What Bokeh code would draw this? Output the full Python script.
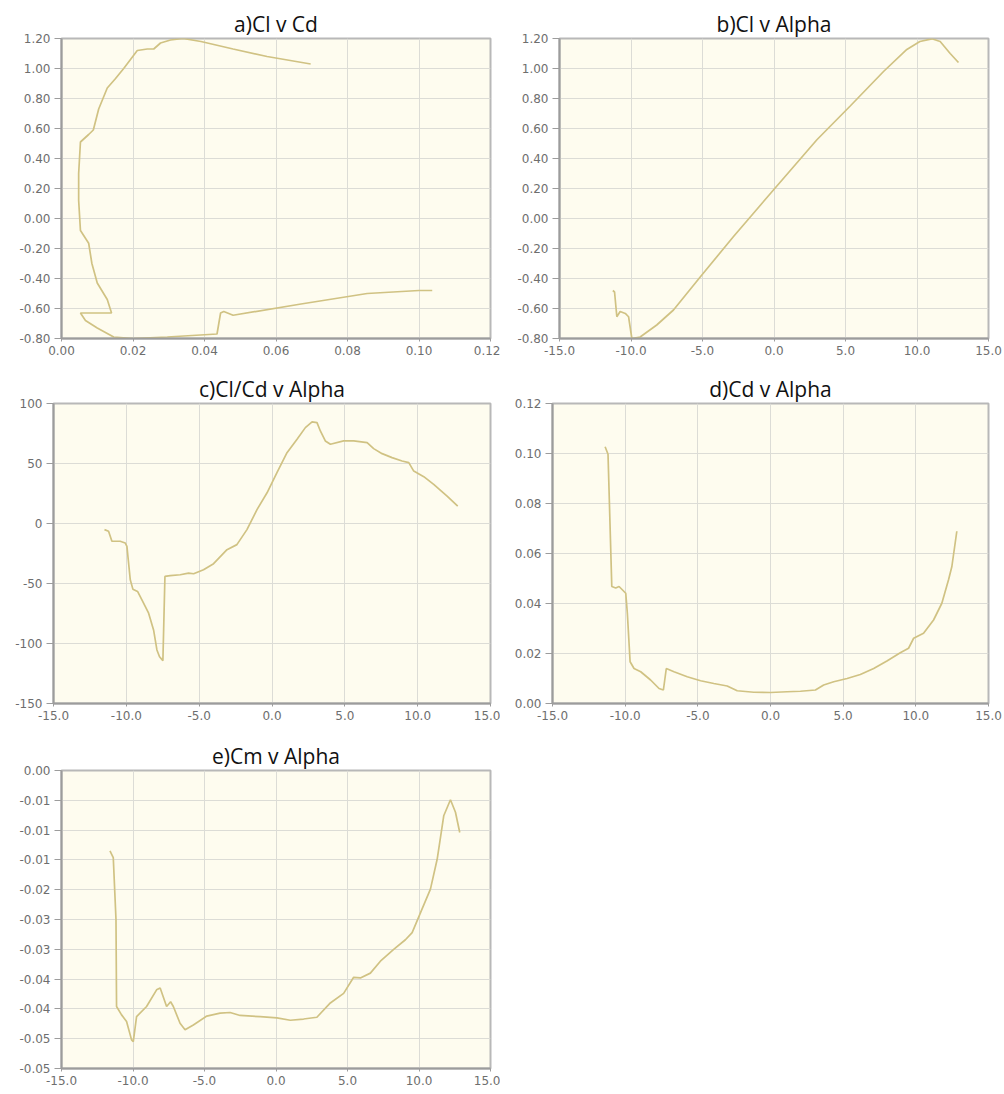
from bokeh.plotting import figure
from bokeh.layouts import column, row
from bokeh.models import NumeralTickFormatter, FixedTicker, Range1d
from bokeh.embed import file_html
from bokeh.resources import INLINE

# ---------------- data ----------------
# a) Cl v Cd  (parametric polar, in order of increasing alpha)
a_cd = [0.1037, 0.100, 0.0855, 0.067, 0.048, 0.0454, 0.0445, 0.0440, 0.0435, 0.0296,
        0.020, 0.0146, 0.010, 0.0067, 0.0053, 0.0140, 0.0128, 0.0100, 0.0085, 0.0076,
        0.0053, 0.0048, 0.0048, 0.0053, 0.0076, 0.0089, 0.0104, 0.0128, 0.0150, 0.0174,
        0.0212, 0.0240, 0.0258, 0.0277, 0.0305, 0.0340, 0.0390, 0.0480, 0.0575, 0.0697]
a_cl = [-0.48, -0.48, -0.50, -0.57, -0.645, -0.62, -0.63, -0.70, -0.77, -0.79,
        -0.80, -0.79, -0.73, -0.68, -0.63, -0.63, -0.54, -0.43, -0.30, -0.165,
        -0.08, 0.12, 0.30, 0.51, 0.56, 0.59, 0.73, 0.87, 0.93, 1.00,
        1.12, 1.13, 1.13, 1.17, 1.19, 1.20, 1.18, 1.13, 1.08, 1.03]

# b) Cl v Alpha
b_alpha = [-11.27, -11.15, -10.99, -10.76, -10.4, -10.17, -9.94, -9.36, -8.2, -7.03,
           -5.16, -2.83, -0.04, 3.0, 5.33, 7.66, 9.29, 10.2, 11.04, 11.62, 12.32, 12.9]
b_cl = [-0.48, -0.49, -0.655, -0.62, -0.633, -0.655, -0.80, -0.79, -0.71, -0.61,
        -0.39, -0.12, 0.19, 0.525, 0.75, 0.98, 1.127, 1.18, 1.198, 1.18, 1.10, 1.04]

# c) Cl/Cd v Alpha
c_alpha = [-11.5, -11.22, -10.99, -10.42, -10.08, -9.96, -9.73, -9.55, -9.23, -8.93,
           -8.47, -8.13, -7.9, -7.72, -7.49, -7.35, -6.99, -6.3, -5.73, -5.38,
           -4.7, -4.01, -3.09, -2.41, -1.72, -1.03, -0.34, 0.34, 1.03, 1.72,
           2.29, 2.75, 3.09, 3.32, 3.66, 4.01, 4.92, 5.61, 6.53, 6.98,
           7.56, 8.24, 8.93, 9.39, 9.73, 10.42, 11.1, 12.02, 12.75]
c_ratio = [-5.1, -6.5, -14.8, -14.8, -16.2, -19.0, -46.9, -54.7, -56.6, -63.6,
           -74.7, -88.7, -105.4, -111.0, -114.3, -44.1, -43.5, -42.7, -41.3, -41.9,
           -38.5, -33.5, -21.8, -17.6, -5.1, 11.6, 25.6, 42.3, 59.0, 70.2,
           79.9, 84.7, 84.1, 77.1, 68.8, 66.0, 68.8, 68.8, 67.4, 62.4,
           58.2, 54.9, 52.1, 50.7, 43.7, 39.0, 32.6, 22.8, 14.4]

# d) Cd v Alpha
d_alpha = [-11.38, -11.18, -10.92, -10.65, -10.42, -9.96, -9.85, -9.66, -9.39, -8.93,
           -8.25, -7.67, -7.37, -7.17, -6.64, -5.73, -4.81, -3.9, -2.98, -2.29,
           -1.15, 0.0, 1.14, 2.06, 3.09, 3.66, 4.35, 5.27, 6.18, 7.1,
           8.01, 8.93, 9.5, 9.85, 10.53, 11.22, 11.79, 12.25, 12.48, 12.82]
d_cd = [0.1027, 0.0997, 0.0468, 0.0462, 0.0468, 0.0441, 0.0361, 0.0167, 0.0140, 0.0127,
        0.0094, 0.0060, 0.0054, 0.0140, 0.0127, 0.0107, 0.0091, 0.0080, 0.0070, 0.0051,
        0.0045, 0.0044, 0.0047, 0.0049, 0.0054, 0.0074, 0.0087, 0.0100, 0.0116, 0.0140,
        0.0170, 0.0203, 0.0221, 0.0261, 0.0281, 0.0334, 0.0401, 0.0495, 0.0548, 0.0689]

# e) Cm v Alpha
e_alpha = [-11.61, -11.38, -11.19, -11.15, -10.8, -10.45, -10.1, -9.98, -9.75, -9.05,
           -8.35, -8.1, -7.65, -7.37, -7.18, -6.71, -6.36, -5.78, -4.84, -3.91,
           -3.21, -2.51, -1.11, 0.06, 1.0, 1.93, 2.86, 3.8, 4.73, 5.43,
           5.9, 6.6, 7.3, 8.23, 9.05, 9.52, 10.1, 10.8, 11.27, 11.73,
           12.2, 12.55, 12.85]
e_cm = [-0.0135, -0.0146, -0.0250, -0.0396, -0.0410, -0.0421, -0.0452, -0.0455, -0.0413, -0.0396,
        -0.0368, -0.0365, -0.0396, -0.0388, -0.0396, -0.0424, -0.0435, -0.0427, -0.0412, -0.0407,
        -0.0406, -0.0411, -0.0413, -0.0415, -0.0419, -0.0417, -0.0414, -0.0390, -0.0374, -0.0347,
        -0.0348, -0.0340, -0.0320, -0.0300, -0.0284, -0.0272, -0.0239, -0.0199, -0.0149, -0.0076,
        -0.0049, -0.0070, -0.0104]

# axes
alpha_ticks = [-15, -10, -5, 0, 5, 10, 15]
cl_ticks = [-0.8, -0.6, -0.4, -0.2, 0.0, 0.2, 0.4, 0.6, 0.8, 1.0, 1.2]
cd_ticks = [0.0, 0.02, 0.04, 0.06, 0.08, 0.10, 0.12]
ratio_ticks = [-150, -100, -50, 0, 50, 100]
cm_ticks = [0.0, -0.005, -0.01, -0.015, -0.02, -0.025, -0.03, -0.035, -0.04, -0.045, -0.05]
cm_tick_labels = ["0.00", "-0.01", "-0.01", "-0.01", "-0.02", "-0.03",
                  "-0.03", "-0.04", "-0.04", "-0.05", "-0.05"]

titles = ["a)Cl v Cd", "b)Cl v Alpha", "c)Cl/Cd v Alpha", "d)Cd v Alpha", "e)Cm v Alpha"]

LINE = "#d0c283"
BG = "#fefcef"
GRID = "#dcdcd6"
AXIS = "#9c9c9c"
LABEL = "#6e6e6e"


def make_fig(title, xr, yr, xt, yt, xfmt, yfmt, w, h, bl, br, bt, bb, toff):
    p = figure(width=w, height=h, x_range=Range1d(*xr), y_range=Range1d(*yr),
               output_backend="svg", toolbar_location=None,
               min_border_left=bl, min_border_right=br,
               min_border_top=bt, min_border_bottom=bb)
    p.title.text = title
    p.title.align = "center"
    p.title.offset = toff
    p.title.text_font = "Open Sans"
    p.title.text_font_style = "normal"
    p.title.text_font_size = "21px"
    p.title.text_color = "#111111"
    p.title.standoff = 1
    p.background_fill_color = BG
    p.border_fill_color = "white"
    p.outline_line_color = "#b8b8b8"
    p.outline_line_width = 2
    p.xaxis.ticker = FixedTicker(ticks=xt)
    p.yaxis.ticker = FixedTicker(ticks=yt)
    p.xaxis.formatter = NumeralTickFormatter(format=xfmt)
    if yfmt is not None:
        p.yaxis.formatter = NumeralTickFormatter(format=yfmt)
    for ax in (p.xaxis, p.yaxis):
        ax.axis_line_color = AXIS
        ax.axis_line_width = 2
        ax.major_tick_line_color = AXIS
        ax.major_tick_line_width = 1
        ax.major_tick_in = 0
        ax.minor_tick_line_color = None
        ax.major_label_text_font = "DejaVu Sans"
        ax.major_label_text_font_size = "12px"
        ax.major_label_text_color = LABEL
    p.yaxis.major_tick_out = 7
    p.yaxis.major_label_standoff = 4
    p.xaxis.major_tick_out = 3
    p.xaxis.major_label_standoff = 4
    p.grid.grid_line_color = GRID
    p.grid.grid_line_width = 1
    return p


pa = make_fig(titles[0], (0, 0.12), (-0.8, 1.2), cd_ticks, cl_ticks, "0.00", "0.00",
              500, 363, 61, 10, 38, 25, -22)
pa.line(a_cd, a_cl, line_color=LINE, line_width=1.7)

pb = make_fig(titles[1], (-15, 15), (-0.8, 1.2), alpha_ticks, cl_ticks, "0.0", "0.00",
              504, 363, 59, 16, 38, 25, -12)
pb.line(b_alpha, b_cl, line_color=LINE, line_width=1.7)

pc = make_fig(titles[2], (-15, 15), (-150, 100), alpha_ticks, ratio_ticks, "0.0", "0",
              500, 365, 53, 10, 40, 25, -5)
pc.line(c_alpha, c_ratio, line_color=LINE, line_width=1.7)

pd = make_fig(titles[3], (-15, 15), (0, 0.12), alpha_ticks, cd_ticks, "0.0", "0.00",
              504, 365, 52, 16, 40, 25, 3)
pd.line(d_alpha, d_cd, line_color=LINE, line_width=1.7)

pe = make_fig(titles[4], (-15, 15), (-0.05, 0.0), alpha_ticks, cm_ticks, "0.0", None,
              500, 366, 61, 10, 42, 26, 8)
pe.yaxis.major_label_overrides = {t: lab for t, lab in zip(cm_ticks, cm_tick_labels)}
pe.line(e_alpha, e_cm, line_color=LINE, line_width=1.7)

layout = column(row(pa, pb), row(pc, pd), row(pe))

open("out.html", "w").write(file_html(layout, INLINE))
